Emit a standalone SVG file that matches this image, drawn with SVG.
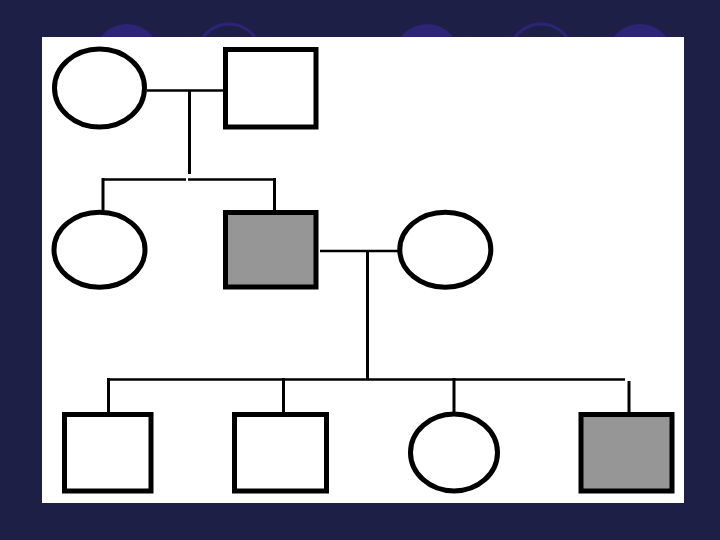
<svg xmlns="http://www.w3.org/2000/svg" width="720" height="540" viewBox="0 0 720 540">
  <style>
    .bg { fill: #1e1f47; }
    .disc { fill: #2e2475; }
    .ring { fill: none; stroke: #2e2475; stroke-width: 3; }
    .panel { fill: #ffffff; }
    .node { stroke: #000000; stroke-width: 5; }
    .open { fill: #ffffff; }
    .affected { fill: #969696; }
    .line { stroke: #000000; stroke-width: 2.5; fill: none; }
    .stem { stroke: #000000; stroke-width: 3; fill: none; }
  </style>
  <rect class="bg" x="0" y="0" width="720" height="540"/>
  <g id="decor">
    <circle class="disc" cx="127" cy="57" r="33"/>
    <circle class="ring" cx="229" cy="56" r="32"/>
    <circle class="disc" cx="427" cy="57" r="33"/>
    <circle class="ring" cx="541" cy="56" r="32"/>
    <circle class="disc" cx="640" cy="57" r="33"/>
  </g>
  <rect class="panel" x="42" y="37" width="642" height="466"/>

  <g id="connectors">
    <line class="line" x1="147" y1="90.5" x2="224" y2="90.5"/>
    <line class="stem" x1="189.5" y1="90" x2="189.5" y2="174"/>
    <line class="line" x1="102.5" y1="179.5" x2="186" y2="179.5"/>
    <line class="line" x1="188" y1="179.5" x2="275" y2="179.5"/>
    <line class="stem" x1="103" y1="178" x2="103" y2="211"/>
    <line class="stem" x1="274.5" y1="178" x2="274.5" y2="211"/>
    <line class="line" x1="320" y1="251" x2="398" y2="251"/>
    <line class="stem" x1="367.5" y1="251" x2="367.5" y2="380"/>
    <line class="line" x1="108" y1="379.5" x2="625" y2="379.5"/>
    <line class="stem" x1="108.5" y1="378" x2="108.5" y2="412"/>
    <line class="stem" x1="283.5" y1="378" x2="283.5" y2="412"/>
    <line class="stem" x1="454" y1="378" x2="454" y2="412"/>
    <line class="stem" x1="629" y1="381" x2="629" y2="412"/>
  </g>

  <g id="gen1-mother">
    <ellipse class="node open" cx="99.5" cy="88" rx="45" ry="39"/>
  </g>
  <g id="gen1-father">
    <rect class="node open" x="225.5" y="49.5" width="90.5" height="77.5"/>
  </g>
  <g id="gen2-daughter">
    <ellipse class="node open" cx="99.5" cy="249.7" rx="45.5" ry="37.5"/>
  </g>
  <g id="gen2-son-affected">
    <rect class="node affected" x="225.5" y="212.5" width="90.5" height="74.5"/>
  </g>
  <g id="gen2-wife">
    <ellipse class="node open" cx="445.3" cy="249.7" rx="45.5" ry="37.5"/>
  </g>
  <g id="gen3-son1">
    <rect class="node open" x="64.5" y="414.5" width="86.5" height="76.5"/>
  </g>
  <g id="gen3-son2">
    <rect class="node open" x="234.5" y="414.5" width="92" height="76.5"/>
  </g>
  <g id="gen3-daughter">
    <ellipse class="node open" cx="454" cy="452.5" rx="43.5" ry="38.5"/>
  </g>
  <g id="gen3-son-affected">
    <rect class="node affected" x="581" y="414.5" width="91" height="76.5"/>
  </g>
</svg>
